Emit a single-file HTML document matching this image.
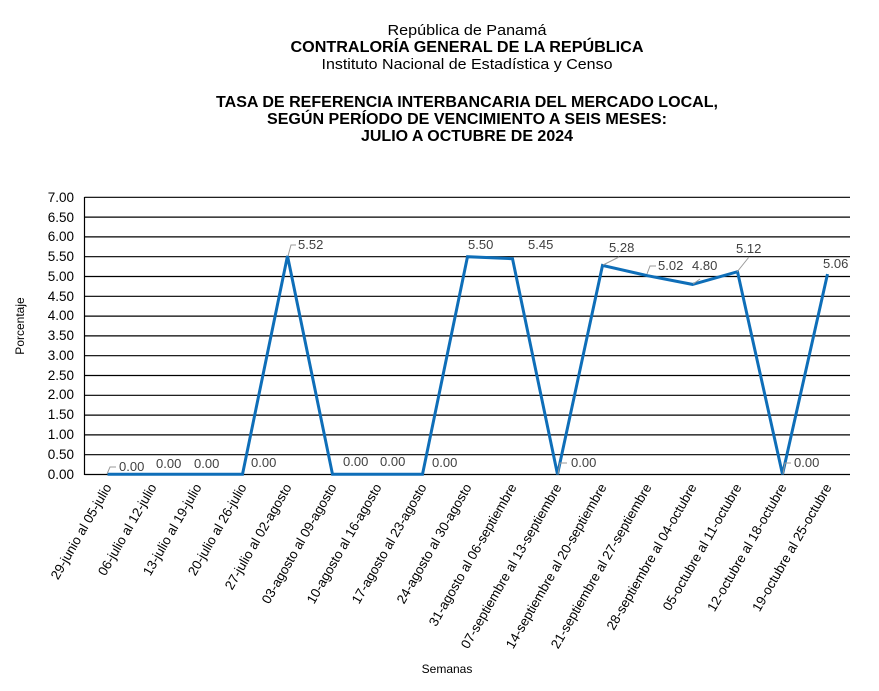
<!DOCTYPE html>
<html><head><meta charset="utf-8"><style>
body{margin:0;background:#fff;}
svg{display:block;font-family:"Liberation Sans",Arial,sans-serif;}
</style></head><body>
<svg width="879" height="691" viewBox="0 0 879 691">
<rect width="879" height="691" fill="#fff"/>
<g text-anchor="middle" fill="#000">
<text x="467" y="35" font-size="15" textLength="159" lengthAdjust="spacingAndGlyphs">República de Panamá</text>
<text x="467" y="52" font-size="15.5" font-weight="bold" textLength="353" lengthAdjust="spacingAndGlyphs">CONTRALORÍA GENERAL DE LA REPÚBLICA</text>
<text x="467" y="69" font-size="15" textLength="291" lengthAdjust="spacingAndGlyphs">Instituto  Nacional de Estadística y Censo</text>
<text x="467" y="107" font-size="15.5" font-weight="bold" textLength="502" lengthAdjust="spacingAndGlyphs">TASA DE REFERENCIA INTERBANCARIA DEL MERCADO LOCAL,</text>
<text x="467" y="124" font-size="15.5" font-weight="bold" textLength="400" lengthAdjust="spacingAndGlyphs">SEGÚN PERÍODO DE VENCIMIENTO A SEIS MESES:</text>
<text x="467" y="141" font-size="15.5" font-weight="bold" textLength="212" lengthAdjust="spacingAndGlyphs">JULIO A OCTUBRE DE 2024</text>
</g>
<g stroke="#000" stroke-width="1.2">
<line x1="84.5" y1="197.3" x2="850" y2="197.3"/><line x1="84.5" y1="217.1" x2="850" y2="217.1"/>
<line x1="84.5" y1="236.9" x2="850" y2="236.9"/><line x1="84.5" y1="256.7" x2="850" y2="256.7"/>
<line x1="84.5" y1="276.5" x2="850" y2="276.5"/><line x1="84.5" y1="296.3" x2="850" y2="296.3"/>
<line x1="84.5" y1="316.1" x2="850" y2="316.1"/><line x1="84.5" y1="335.9" x2="850" y2="335.9"/>
<line x1="84.5" y1="355.7" x2="850" y2="355.7"/><line x1="84.5" y1="375.5" x2="850" y2="375.5"/>
<line x1="84.5" y1="395.3" x2="850" y2="395.3"/><line x1="84.5" y1="415.1" x2="850" y2="415.1"/>
<line x1="84.5" y1="434.9" x2="850" y2="434.9"/><line x1="84.5" y1="454.7" x2="850" y2="454.7"/>
<line x1="84.5" y1="474.5" x2="850" y2="474.5"/>
<line x1="84.5" y1="197" x2="84.5" y2="475"/>
</g>
<g font-size="13.5" text-anchor="end" fill="#000">
<text x="74" y="202">7.00</text><text x="74" y="222">6.50</text><text x="74" y="241">6.00</text>
<text x="74" y="261">5.50</text><text x="74" y="281">5.00</text><text x="74" y="301">4.50</text>
<text x="74" y="320">4.00</text><text x="74" y="340">3.50</text><text x="74" y="360">3.00</text>
<text x="74" y="380">2.50</text><text x="74" y="399">2.00</text><text x="74" y="419">1.50</text>
<text x="74" y="439">1.00</text><text x="74" y="459">0.50</text><text x="74" y="479">0.00</text>
</g>
<text x="24" y="326" font-size="12" text-anchor="middle" transform="rotate(-90 24 326)">Porcentaje</text>
<text x="447" y="673" font-size="12" text-anchor="middle">Semanas</text>
<polyline fill="none" stroke="#0E6EB8" stroke-width="3" stroke-linejoin="miter" points="107.5,474.3 152.5,474.3 197.5,474.3 242.5,474.3 287.5,255.9 332.5,474.3 377.5,474.3 422.5,474.3 467.5,256.7 512.5,258.7 557.5,474.3 602.5,265.4 647.5,275.7 692.5,284.4 737.5,271.7 782.5,474.3 827.5,274.1"/>
<g stroke="#999" fill="none" stroke-width="1">
<polyline points="107,474 110,467 116,467"/>
<polyline points="288,256 291,245 296,245"/>
<polyline points="558,474 560,463 567,463"/>
<polyline points="603,265 619,257"/>
<polyline points="647,274 650,266 656,266"/>
<polyline points="693,284 700,279"/>
<polyline points="737,272 749,257"/>
<polyline points="783,474 785,463 791,463"/>
</g>
<g font-size="13" fill="#404040">
<text x="119" y="471">0.00</text><text x="156" y="468">0.00</text><text x="194" y="468">0.00</text>
<text x="251" y="467">0.00</text><text x="298" y="249">5.52</text>
<text x="343" y="466">0.00</text><text x="380" y="466">0.00</text><text x="432" y="467">0.00</text>
<text x="468" y="249">5.50</text><text x="528" y="249">5.45</text><text x="571" y="467">0.00</text>
<text x="609" y="252">5.28</text><text x="658" y="270">5.02</text><text x="692" y="270">4.80</text>
<text x="736" y="253">5.12</text><text x="794" y="467">0.00</text><text x="823" y="268">5.06</text>
</g>
<g font-size="13.3" text-anchor="end" fill="#000">
<text transform="translate(112,487) rotate(-60)">29-junio al 05-julio</text>
<text transform="translate(157,487) rotate(-60)">06-julio al 12-julio</text>
<text transform="translate(202,487) rotate(-60)">13-julio al 19-julio</text>
<text transform="translate(247,487) rotate(-60)">20-julio al 26-julio</text>
<text transform="translate(292,487) rotate(-60)">27-julio al 02-agosto</text>
<text transform="translate(337,487) rotate(-60)">03-agosto al 09-agosto</text>
<text transform="translate(382,487) rotate(-60)">10-agosto al 16-agosto</text>
<text transform="translate(427,487) rotate(-60)">17-agosto al 23-agosto</text>
<text transform="translate(472,487) rotate(-60)">24-agosto al 30-agosto</text>
<text transform="translate(517,487) rotate(-60)">31-agosto al 06-septiembre</text>
<text transform="translate(562,487) rotate(-60)">07-septiembre al 13-septiembre</text>
<text transform="translate(607,487) rotate(-60)">14-septiembre al 20-septiembre</text>
<text transform="translate(652,487) rotate(-60)">21-septiembre al 27-septiembre</text>
<text transform="translate(697,487) rotate(-60)">28-septiembre al 04-octubre</text>
<text transform="translate(742,487) rotate(-60)">05-octubre al 11-octubre</text>
<text transform="translate(787,487) rotate(-60)">12-octubre al 18-octubre</text>
<text transform="translate(832,487) rotate(-60)">19-octubre al 25-octubre</text>
</g>
</svg>
</body></html>
